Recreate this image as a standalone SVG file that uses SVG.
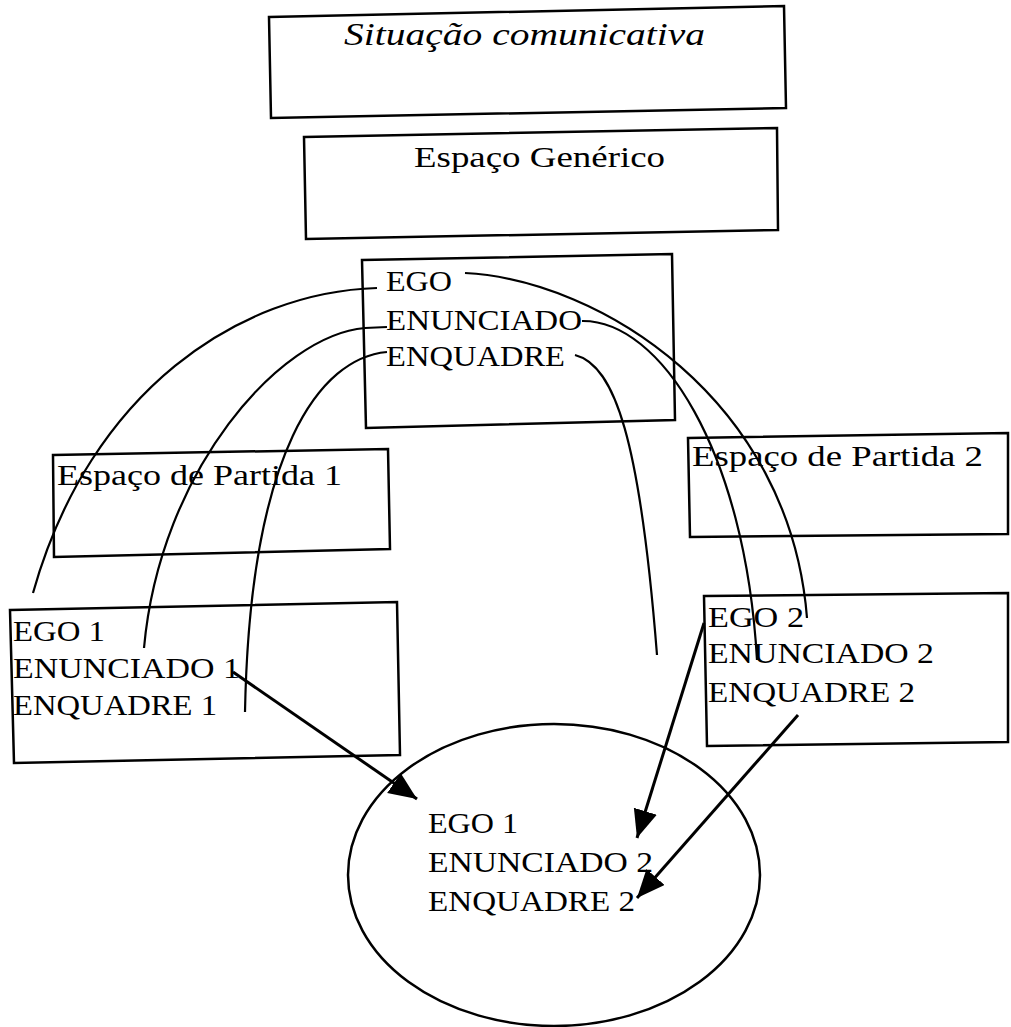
<svg xmlns="http://www.w3.org/2000/svg" width="1011" height="1027" viewBox="0 0 1011 1027">
<defs>
<style>
.box{fill:none;stroke:#000;stroke-width:2.5;stroke-linejoin:miter}
.t{font-family:"Liberation Serif","Times New Roman",serif;font-size:29px;fill:#000}
.ti{font-family:"Liberation Serif","Times New Roman",serif;font-size:31px;font-style:italic;fill:#000}
.curve{fill:none;stroke:#000;stroke-width:2.2}
.arrow{fill:none;stroke:#000;stroke-width:3}
</style>
<marker id="ah" markerUnits="userSpaceOnUse" markerWidth="30" markerHeight="26" refX="28" refY="12" orient="auto">
<path d="M0,0 L28,12 L0,24 z" fill="#000"/>
</marker>
</defs>
<rect width="1011" height="1027" fill="#fff"/>
<g id="situacao">
<polygon class="box" points="269,17 784,6 786,108 271,118"/>
<text class="ti" x="344" y="45" textLength="361" lengthAdjust="spacingAndGlyphs">Situação comunicativa</text>
</g>
<g id="generico">
<polygon class="box" points="304,137 777,128 778,230 306,239"/>
<text class="t" x="414" y="167" textLength="251" lengthAdjust="spacingAndGlyphs">Espaço Genérico</text>
</g>
<g id="ego-box">
<polygon class="box" points="362,260 672,254 675,420 366,428"/>
<text class="t" x="386" y="291" textLength="66" lengthAdjust="spacingAndGlyphs">EGO</text>
<text class="t" x="386" y="330" textLength="196" lengthAdjust="spacingAndGlyphs">ENUNCIADO</text>
<text class="t" x="386" y="366" textLength="179" lengthAdjust="spacingAndGlyphs">ENQUADRE</text>
</g>
<g id="partida1">
<polygon class="box" points="53,455 388,449 390,549 54,557"/>
<text class="t" x="57" y="485" textLength="285" lengthAdjust="spacingAndGlyphs">Espaço de Partida 1</text>
</g>
<g id="ego1-box">
<polygon class="box" points="10,610 397,602 400,755 14,763"/>
<text class="t" x="13" y="641" textLength="92" lengthAdjust="spacingAndGlyphs">EGO 1</text>
<text class="t" x="13" y="678" textLength="227" lengthAdjust="spacingAndGlyphs">ENUNCIADO 1</text>
<text class="t" x="13" y="715" textLength="204" lengthAdjust="spacingAndGlyphs">ENQUADRE 1</text>
</g>
<g id="partida2">
<polygon class="box" points="688,438 1008,433 1008,534 690,537"/>
<text class="t" x="692" y="466" textLength="291" lengthAdjust="spacingAndGlyphs">Espaço de Partida 2</text>
</g>
<g id="ego2-box">
<polygon class="box" points="704,596 1008,593 1008,742 707,746"/>
<text class="t" x="708" y="627" textLength="96" lengthAdjust="spacingAndGlyphs">EGO 2</text>
<text class="t" x="708" y="663" textLength="226" lengthAdjust="spacingAndGlyphs">ENUNCIADO 2</text>
<text class="t" x="708" y="702" textLength="207" lengthAdjust="spacingAndGlyphs">ENQUADRE 2</text>
</g>
<g id="blend">
<ellipse class="box" cx="554" cy="875" rx="206" ry="151"/>
<text class="t" x="428" y="833" textLength="90" lengthAdjust="spacingAndGlyphs">EGO 1</text>
<text class="t" x="428" y="872" textLength="225" lengthAdjust="spacingAndGlyphs">ENUNCIADO 2</text>
<text class="t" x="428" y="911" textLength="207" lengthAdjust="spacingAndGlyphs">ENQUADRE 2</text>
</g>
<g id="connectors">
<path class="curve" d="M377,288 C240,292 90,390 33,593"/>
<path class="curve" d="M387,327 L365,328 C280,335 160,470 144,648"/>
<path class="curve" d="M387,352 C320,358 250,450 245,712"/>
<path class="curve" d="M465,273 C600,280 790,400 807,618"/>
<path class="curve" d="M582,321 C660,320 745,450 757,660"/>
<path class="curve" d="M575,355 C615,365 640,440 657,655"/>
<line class="arrow" x1="233" y1="672" x2="417" y2="799" marker-end="url(#ah)"/>
<line class="arrow" x1="704" y1="623" x2="637" y2="838" marker-end="url(#ah)"/>
<line class="arrow" x1="798" y1="715" x2="637" y2="898" marker-end="url(#ah)"/>
</g>
</svg>
